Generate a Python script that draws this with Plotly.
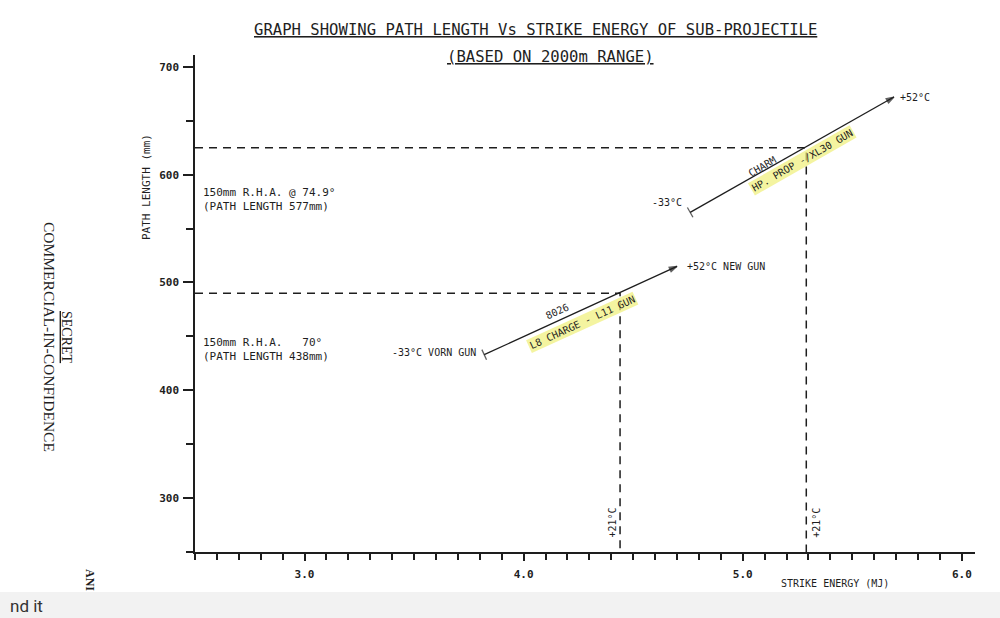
import plotly.graph_objects as go

# ---------------- data ----------------
x_tick_vals = [3.0, 4.0, 5.0, 6.0]
x_tick_text = ["3.0", "4.0", "5.0", "6.0"]
y_tick_vals = [300, 400, 500, 600, 700]
y_tick_text = ["300", "400", "500", "600", "700"]

# L8 charge - L11 gun line (-33 C worn gun -> +52 C new gun)
energy_l11 = [3.82, 4.70]
path_l11 = [433, 515]

# CHARM HP prop - XL30 gun line (-33 C -> +52 C)
energy_xl30 = [4.76, 5.69]
path_xl30 = [565, 672]

# +21 C reference points
energy_21c = [4.44, 5.29]
path_21c = [490, 625]

# RHA reference path lengths
rha_paths = [577, 438]
rha_labels = ["150mm R.H.A. @ 74.9°<br>(PATH LENGTH 577mm)",
              "150mm R.H.A.   70°<br>(PATH LENGTH 438mm)"]

X_RANGE = [2.5, 6.06]
Y_RANGE = [250, 711]

# ---------------- layout helpers (pixel -> paper) ----------------
L, R, T, B = 195, 25, 55, 66
W, H = 1000, 618
PW, PH = W - L - R, H - T - B


def px(x):
    return (x - L) / PW


def py(y):
    return (H - B - y) / PH


MONO = "DejaVu Sans Mono"
INK = "#1e1e1e"

fig = go.Figure()

# dashed reference lines at +21 C
for e, p in zip(energy_21c, path_21c):
    fig.add_trace(go.Scatter(x=[X_RANGE[0], e, e], y=[p, p, Y_RANGE[0]],
                             mode="lines", showlegend=False, hoverinfo="skip",
                             line=dict(color=INK, width=1.5, dash="8px,6px")))

# the two performance lines
for ex, pth, ang in [(energy_l11, path_l11, 65.5), (energy_xl30, path_xl30, 60.3)]:
    fig.add_trace(go.Scatter(x=ex, y=pth, mode="lines+markers", showlegend=False,
                             line=dict(color=INK, width=1.3),
                             marker=dict(symbol=["line-ns", "arrow"], size=[8, 8],
                                         angle=[-(90 - ang), ang], color=INK,
                                         line=dict(color=INK, width=1.3))))

ann = []


def pann(x, y, text, size=10, family=MONO, angle=0, color=INK, **kw):
    d = dict(x=px(x), y=py(y), xref="paper", yref="paper", showarrow=False,
             xanchor="center", yanchor="middle", text=text, textangle=angle,
             font=dict(family=family, size=size, color=color))
    d.update(kw)
    ann.append(d)


# title
pann(535, 30, "<u>GRAPH SHOWING PATH LENGTH Vs STRIKE ENERGY OF SUB-PROJECTILE</u>", size=15.6)
pann(550, 57, "<u>(BASED ON 2000m RANGE)</u>", size=15.6)
# axis titles
pann(147, 187, "PATH LENGTH (mm)", size=11, angle=-90)
pann(835, 583, "STRIKE ENERGY (MJ)", size=10)
# RHA labels
for p, t in zip(rha_paths, rha_labels):
    ann.append(dict(x=X_RANGE[0], y=p, xref="x", yref="y", showarrow=False,
                    xanchor="left", yanchor="middle", align="left", xshift=6, text=t,
                    font=dict(family=MONO, size=11, color=INK)))
# line end labels
ann.append(dict(x=energy_l11[0], y=path_l11[0], xanchor="right", yanchor="middle",
                xshift=-6, yshift=2, showarrow=False,
                text="-33°C VORN GUN", font=dict(family=MONO, size=10, color=INK)))
ann.append(dict(x=energy_l11[1], y=path_l11[1], xanchor="left", yanchor="middle",
                xshift=8, showarrow=False,
                text="+52°C NEW GUN", font=dict(family=MONO, size=10, color=INK)))
ann.append(dict(x=energy_xl30[0], y=path_xl30[0], xanchor="right", yanchor="middle",
                xshift=-6, yshift=10, showarrow=False, text="-33°C",
                font=dict(family=MONO, size=10, color=INK)))
ann.append(dict(x=energy_xl30[1], y=path_xl30[1], xanchor="left", yanchor="middle",
                xshift=4, showarrow=False, text="+52°C",
                font=dict(family=MONO, size=10, color=INK)))
# labels along the lines
pann(557, 311, "8026", angle=-24.5)
pann(582, 322, "L8 CHARGE - L11 GUN", angle=-24.5,
     bgcolor="rgba(240,240,120,0.7)", borderpad=1)
pann(762, 166, "CHARM", angle=-29.7)
pann(802, 160, "HP. PROP -/XL30 GUN", angle=-29.7,
     bgcolor="rgba(240,240,120,0.7)", borderpad=1)
# +21 C labels
ann.append(dict(x=energy_21c[0], y=Y_RANGE[0], yref="y", xanchor="right", yanchor="bottom",
                xshift=-1, yshift=12, showarrow=False, text="+21°C", textangle=-90,
                font=dict(family=MONO, size=10, color=INK)))
ann.append(dict(x=energy_21c[1], y=Y_RANGE[0], yref="y", xanchor="left", yanchor="bottom",
                xshift=2, yshift=12, showarrow=False, text="+21°C", textangle=-90,
                font=dict(family=MONO, size=10, color=INK)))
# page margin text
pann(66, 337, "<u>SECRET</u>", size=14, family="Liberation Serif", angle=90)
pann(49, 337, "COMMERCIAL-IN-CONFIDENCE", size=15.5, family="Liberation Serif", angle=90)
pann(90, 580, "<b>ANI</b>", size=12, family="Liberation Serif", angle=90)
pann(8, 606, "nd it", size=17, family="Roboto", color="#333333", xanchor="left")

fig.update_layout(
    width=W, height=H,
    margin=dict(l=L, r=R, t=T, b=B),
    paper_bgcolor="white", plot_bgcolor="white",
    annotations=ann,
    shapes=[dict(type="rect", xref="paper", yref="paper", x0=px(0), x1=px(W),
                 y0=py(H), y1=py(592), fillcolor="#f2f2f2", line=dict(width=0),
                 layer="below")],
    xaxis=dict(range=X_RANGE, showgrid=False, zeroline=False, showline=True,
               linecolor=INK, linewidth=1.5, tickvals=x_tick_vals, ticktext=x_tick_text,
               ticks="outside", ticklen=7, tickwidth=1.5, tickcolor=INK,
               ticklabelstandoff=4,
               tickfont=dict(family=MONO, size=11, color=INK, weight="bold"),
               minor=dict(tick0=2.5, dtick=0.1, ticks="outside", ticklen=6,
                          tickwidth=1.5, tickcolor=INK, showgrid=False)),
    yaxis=dict(range=Y_RANGE, showgrid=False, zeroline=False, showline=True,
               linecolor=INK, linewidth=1.5, tickvals=y_tick_vals, ticktext=y_tick_text,
               ticks="outside", ticklen=10, tickwidth=1.5, tickcolor=INK,
               ticklabelstandoff=2,
               tickfont=dict(family=MONO, size=11, color=INK, weight="bold"),
               minor=dict(tick0=250, dtick=50, ticks="outside", ticklen=7,
                          tickwidth=1.5, tickcolor=INK, showgrid=False)),
)

fig.write_html("out.html", config={"displayModeBar": False},
               post_script="document.body.style.margin='0';document.body.style.overflow='hidden';")
